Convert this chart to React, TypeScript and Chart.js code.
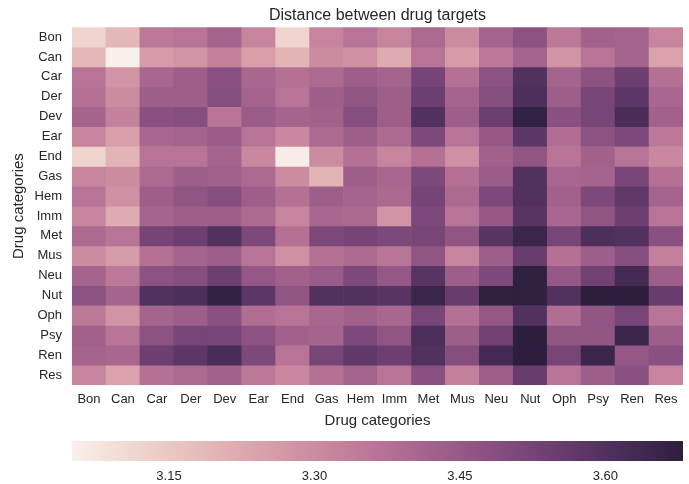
import React, { useEffect, useRef } from "react";
import { Chart, registerables } from "chart.js";

Chart.register(...registerables);

// ---- data ----
const categories = ["Bon", "Can", "Car", "Der", "Dev", "Ear", "End", "Gas", "Hem", "Imm", "Met", "Mus", "Neu", "Nut", "Oph", "Psy", "Ren", "Res"];

const rowBon = [3.12, 3.19, 3.355, 3.365, 3.415, 3.32, 3.12, 3.32, 3.365, 3.32, 3.395, 3.30, 3.415, 3.475, 3.355, 3.425, 3.415, 3.32];
const rowCan = [3.19, 3.05, 3.26, 3.28, 3.33, 3.25, 3.20, 3.30, 3.29, 3.22, 3.365, 3.26, 3.355, 3.415, 3.28, 3.365, 3.415, 3.24];
const rowCar = [3.365, 3.28, 3.405, 3.435, 3.48, 3.405, 3.375, 3.395, 3.435, 3.415, 3.525, 3.375, 3.475, 3.60, 3.415, 3.475, 3.545, 3.375];
const rowDer = [3.375, 3.30, 3.435, 3.435, 3.49, 3.415, 3.365, 3.435, 3.465, 3.435, 3.545, 3.415, 3.49, 3.61, 3.435, 3.52, 3.58, 3.405];
const rowDev = [3.415, 3.33, 3.48, 3.49, 3.365, 3.445, 3.415, 3.425, 3.49, 3.435, 3.60, 3.435, 3.545, 3.67, 3.48, 3.52, 3.62, 3.425];
const rowEar = [3.32, 3.25, 3.405, 3.415, 3.445, 3.365, 3.31, 3.395, 3.435, 3.395, 3.51, 3.365, 3.455, 3.58, 3.385, 3.475, 3.51, 3.355];
const rowEnd = [3.12, 3.20, 3.365, 3.365, 3.415, 3.31, 3.06, 3.30, 3.375, 3.32, 3.375, 3.29, 3.425, 3.465, 3.365, 3.425, 3.365, 3.31];
const rowGas = [3.32, 3.30, 3.395, 3.435, 3.425, 3.395, 3.30, 3.20, 3.435, 3.405, 3.51, 3.375, 3.445, 3.60, 3.405, 3.415, 3.52, 3.375];
const rowHem = [3.365, 3.29, 3.435, 3.465, 3.49, 3.435, 3.375, 3.435, 3.415, 3.40, 3.525, 3.395, 3.51, 3.60, 3.425, 3.51, 3.57, 3.415];
const rowImm = [3.32, 3.22, 3.415, 3.435, 3.435, 3.395, 3.32, 3.405, 3.40, 3.28, 3.51, 3.365, 3.455, 3.59, 3.405, 3.465, 3.545, 3.365];
const rowMet = [3.395, 3.365, 3.525, 3.545, 3.60, 3.51, 3.375, 3.51, 3.525, 3.51, 3.52, 3.465, 3.59, 3.65, 3.52, 3.61, 3.60, 3.48];
const rowMus = [3.30, 3.26, 3.375, 3.415, 3.435, 3.365, 3.29, 3.375, 3.395, 3.365, 3.465, 3.32, 3.435, 3.555, 3.375, 3.435, 3.49, 3.33];
const rowNeu = [3.415, 3.355, 3.475, 3.49, 3.545, 3.455, 3.425, 3.445, 3.51, 3.455, 3.59, 3.435, 3.51, 3.675, 3.455, 3.535, 3.63, 3.435];
const rowNut = [3.475, 3.415, 3.60, 3.61, 3.67, 3.58, 3.465, 3.60, 3.60, 3.59, 3.65, 3.555, 3.675, 3.675, 3.60, 3.68, 3.68, 3.555];
const rowOph = [3.355, 3.28, 3.415, 3.435, 3.48, 3.385, 3.365, 3.405, 3.425, 3.405, 3.52, 3.375, 3.455, 3.60, 3.385, 3.465, 3.52, 3.365];
const rowPsy = [3.425, 3.365, 3.475, 3.52, 3.52, 3.475, 3.425, 3.415, 3.51, 3.465, 3.61, 3.435, 3.535, 3.68, 3.465, 3.465, 3.65, 3.435];
const rowRen = [3.415, 3.405, 3.545, 3.58, 3.62, 3.51, 3.365, 3.52, 3.57, 3.545, 3.60, 3.49, 3.63, 3.68, 3.52, 3.65, 3.455, 3.48];
const rowRes = [3.32, 3.24, 3.375, 3.395, 3.425, 3.355, 3.31, 3.375, 3.415, 3.365, 3.48, 3.33, 3.435, 3.555, 3.365, 3.435, 3.48, 3.32];

const distanceRows = [rowBon, rowCan, rowCar, rowDer, rowDev, rowEar, rowEnd, rowGas, rowHem, rowImm, rowMet, rowMus, rowNeu, rowNut, rowOph, rowPsy, rowRen, rowRes];

const colorbarTicks = [3.15, 3.3, 3.45, 3.6];

const titleText = "Distance between drug targets";
const axisLabel = "Drug categories";

// ---- style ----
const FONT = "'Liberation Sans', Arial, sans-serif";
const TEXT = "#262626";

const allVals = distanceRows.flat();
const vmin = Math.min(...allVals);
const vmax = Math.max(...allVals);

// seaborn cubehelix_palette(light=.95, as_cmap=True)
function cmap(t: number): string {
  const tt = Math.max(0, Math.min(1, t));
  const x = 0.95 + (0.15 - 0.95) * tt;
  const a = (0.8 * x * (1 - x)) / 2;
  const phi = 2 * Math.PI * (0.4 * x);
  const c = Math.cos(phi);
  const s = Math.sin(phi);
  const cl = (v: number) => Math.round(255 * Math.max(0, Math.min(1, v)));
  const r = x + a * (-0.14861 * c + 1.78277 * s);
  const g = x + a * (-0.29227 * c - 0.90649 * s);
  const b = x + a * (1.97294 * c);
  return `rgb(${cl(r)},${cl(g)},${cl(b)})`;
}

export default function App() {
  const heatRef = useRef<HTMLCanvasElement | null>(null);
  const barRef = useRef<HTMLCanvasElement | null>(null);

  useEffect(() => {
    const heat = new Chart(heatRef.current as HTMLCanvasElement, {
      type: "bar",
      data: {
        labels: categories,
        datasets: distanceRows.map((row, r) => ({
          label: categories[r],
          data: categories.map(() => [r, r + 1]) as any,
          backgroundColor: row.map((v) => cmap((v - vmin) / (vmax - vmin))),
          borderWidth: 0,
          barPercentage: 1,
          categoryPercentage: 1,
          grouped: false,
        })) as any,
      },
      options: {
        animation: false,
        responsive: false,
        maintainAspectRatio: false,
        layout: { padding: { left: 0, right: 6, top: 0, bottom: 0 } },
        plugins: {
          legend: { display: false },
          tooltip: { enabled: false },
          title: {
            display: true,
            text: titleText,
            fullSize: false,
            color: TEXT,
            font: { family: FONT, size: 16, weight: "normal" },
            padding: { top: 6, bottom: 2 },
          },
        },
        scales: {
          x: {
            type: "category",
            offset: true,
            grid: { display: false, drawTicks: false },
            border: { display: false },
            ticks: { color: TEXT, font: { family: FONT, size: 13 }, padding: 7, maxRotation: 0, autoSkip: false },
            title: { display: true, text: axisLabel, color: TEXT, font: { family: FONT, size: 15 }, padding: { top: 0, bottom: 0 } },
            afterFit: (s: any) => {
              s.height = 45;
            },
          },
          y: {
            type: "linear",
            min: 0,
            max: categories.length,
            reverse: true,
            grid: { display: false, drawTicks: false },
            border: { display: false },
            afterBuildTicks: (s: any) => {
              s.ticks = categories.map((_, i) => ({ value: i + 0.5 }));
            },
            ticks: {
              color: TEXT,
              font: { family: FONT, size: 13 },
              padding: 10,
              autoSkip: false,
              callback: (_v: any, i: number) => categories[i],
            },
            title: { display: true, text: axisLabel, color: TEXT, font: { family: FONT, size: 15 }, padding: { top: 10, bottom: 0 } },
            afterFit: (s: any) => {
              s.width = 72;
            },
          },
        },
      } as any,
    });

    const bar = new Chart(barRef.current as HTMLCanvasElement, {
      type: "bar",
      data: {
        labels: [""],
        datasets: [
          {
            data: [[vmin, vmax]] as any,
            borderWidth: 0,
            barPercentage: 1,
            categoryPercentage: 1,
            backgroundColor: (ctx: any) => {
              const chart = ctx.chart;
              const xs = chart.scales && chart.scales.x;
              if (!xs || !chart.chartArea) return cmap(0.5);
              const x0 = xs.getPixelForValue(vmin);
              const x1 = xs.getPixelForValue(vmax);
              if (!isFinite(x0) || !isFinite(x1) || x0 === x1) return cmap(0.5);
              const g = chart.ctx.createLinearGradient(x0, 0, x1, 0);
              const n = 48;
              for (let i = 0; i <= n; i++) g.addColorStop(i / n, cmap(i / n));
              return g;
            },
          },
        ],
      },
      options: {
        indexAxis: "y",
        animation: false,
        responsive: false,
        maintainAspectRatio: false,
        layout: { padding: { left: 72, right: 6, top: 11, bottom: 0 } },
        plugins: { legend: { display: false }, tooltip: { enabled: false } },
        scales: {
          x: {
            type: "linear",
            min: vmin,
            max: vmax,
            grid: { display: false, drawTicks: false },
            border: { display: false },
            afterBuildTicks: (s: any) => {
              s.ticks = colorbarTicks.map((v) => ({ value: v }));
            },
            ticks: {
              color: TEXT,
              font: { family: FONT, size: 13 },
              padding: 8,
              callback: (v: any) => Number(v).toFixed(2),
            },
            afterFit: (s: any) => {
              s.height = 23;
            },
          },
          y: { display: false },
        },
      } as any,
    });

    return () => {
      heat.destroy();
      bar.destroy();
    };
  }, []);

  return (
    <div style={{ position: "absolute", left: 0, top: 0, width: 689, height: 484, background: "#fff" }}>
      <canvas ref={heatRef} width={689} height={430} style={{ position: "absolute", left: 0, top: 0, width: 689, height: 430 }} />
      <canvas ref={barRef} width={689} height={54} style={{ position: "absolute", left: 0, top: 430, width: 689, height: 54 }} />
    </div>
  );
}
